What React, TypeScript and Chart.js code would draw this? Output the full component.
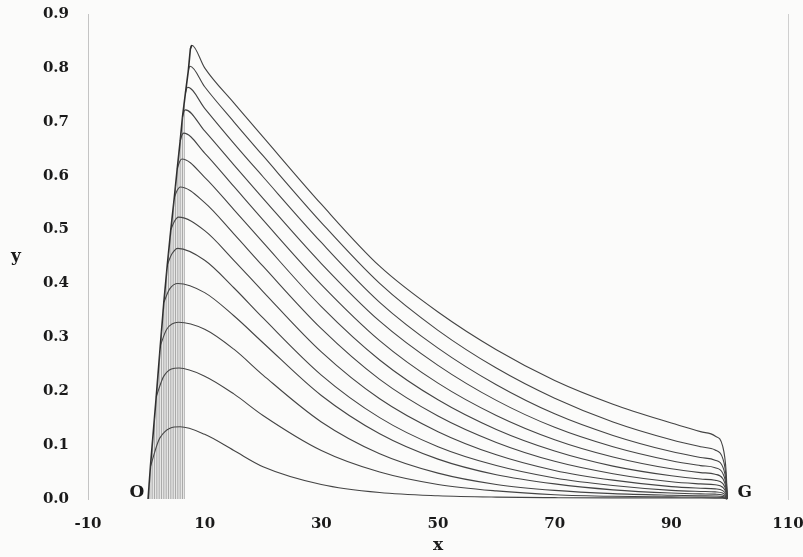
import React, { useEffect, useRef } from "react";
import { Chart, registerables } from "chart.js";

Chart.register(...registerables);

// Axis ticks
const xTicks = [-10, 10, 30, 50, 70, 90, 110];
const yTicks = [0, 0.1, 0.2, 0.3, 0.4, 0.5, 0.6, 0.7, 0.8, 0.9];

// Left envelope (rising front from O to the top peak)
const envX = [0.3, 0.7, 1.7, 2.4, 3.0, 3.6, 4.2, 4.8, 5.3, 5.8, 6.2, 6.7, 7.2, 7.55, 7.8];
const envY = [0, 0.06, 0.19, 0.285, 0.365, 0.435, 0.5, 0.56, 0.613, 0.664, 0.709, 0.753, 0.795, 0.835, 0.842];

// Hatched band under the front (vertical strokes)
const hatchX = [0.5, 0.8, 1.1, 1.4, 1.7, 2.0, 2.3, 2.6, 2.9, 3.2, 3.5, 3.8, 4.1, 4.4, 4.7, 5.0, 5.3, 5.6, 5.9, 6.2, 6.5];
const hatchTop = [0.03, 0.073, 0.112, 0.151, 0.19, 0.231, 0.271, 0.312, 0.352, 0.388, 0.423, 0.457, 0.489, 0.52, 0.55, 0.581, 0.613, 0.644, 0.675, 0.709, 0.735];

// Head of each of the 13 curves: start on the front, bend, peak
const startX = [0.7, 1.7, 2.4, 3.0, 3.6, 4.2, 4.8, 5.3, 5.8, 6.2, 6.7, 7.2, 7.55];
const startY = [0.06, 0.19, 0.285, 0.365, 0.435, 0.5, 0.56, 0.613, 0.664, 0.709, 0.753, 0.795, 0.835];
const bendX = [2.3, 3.0, 3.5, 4.0, 4.4, 4.8, 5.3, 5.7, 6.1, 6.45, 6.9, 7.35, 7.7];
const bendY = [0.113, 0.228, 0.315, 0.39, 0.455, 0.515, 0.573, 0.626, 0.675, 0.719, 0.761, 0.801, 0.841];
const peakX = [5.8, 5.6, 5.5, 5.4, 5.4, 5.5, 5.8, 6.1, 6.4, 6.7, 7.1, 7.5, 7.8];
const peakY = [0.134, 0.243, 0.328, 0.4, 0.465, 0.523, 0.579, 0.631, 0.679, 0.722, 0.764, 0.803, 0.842];

// Tail of each curve, sampled at decayX
const decayX = [10, 15, 20, 30, 40, 50, 60, 70, 80, 90, 95, 97.5, 98.8, 99.4, 99.6];
const curve01 = [0.12, 0.09, 0.06, 0.027, 0.012, 0.006, 0.0035, 0.0025, 0.002, 0.002, 0.0018, 0.0017, 0.0014, 0.0007, 0];
const curve02 = [0.228, 0.195, 0.155, 0.09, 0.05, 0.027, 0.015, 0.008, 0.005, 0.004, 0.0035, 0.0033, 0.0027, 0.0014, 0];
const curve03 = [0.315, 0.278, 0.23, 0.143, 0.084, 0.048, 0.027, 0.016, 0.01, 0.007, 0.006, 0.0056, 0.0047, 0.0024, 0];
const curve04 = [0.383, 0.34, 0.29, 0.192, 0.121, 0.074, 0.045, 0.028, 0.017, 0.011, 0.0095, 0.009, 0.0074, 0.0038, 0];
const curve05 = [0.443, 0.392, 0.336, 0.23, 0.151, 0.097, 0.062, 0.039, 0.025, 0.016, 0.014, 0.0132, 0.011, 0.0056, 0];
const curve06 = [0.498, 0.443, 0.385, 0.273, 0.186, 0.125, 0.082, 0.053, 0.035, 0.023, 0.02, 0.0188, 0.0156, 0.008, 0];
const curve07 = [0.55, 0.492, 0.432, 0.316, 0.222, 0.154, 0.105, 0.07, 0.047, 0.032, 0.028, 0.0263, 0.0218, 0.0112, 0];
const curve08 = [0.597, 0.537, 0.476, 0.357, 0.258, 0.184, 0.129, 0.089, 0.061, 0.043, 0.037, 0.0348, 0.0289, 0.0148, 0];
const curve09 = [0.642, 0.58, 0.518, 0.398, 0.294, 0.215, 0.155, 0.11, 0.078, 0.056, 0.049, 0.046, 0.038, 0.0196, 0];
const curve10 = [0.683, 0.62, 0.558, 0.437, 0.33, 0.248, 0.183, 0.133, 0.097, 0.071, 0.062, 0.058, 0.048, 0.025, 0];
const curve11 = [0.725, 0.66, 0.598, 0.476, 0.365, 0.28, 0.212, 0.158, 0.118, 0.088, 0.077, 0.072, 0.06, 0.031, 0];
const curve12 = [0.765, 0.7, 0.637, 0.513, 0.4, 0.313, 0.243, 0.187, 0.143, 0.11, 0.097, 0.091, 0.076, 0.039, 0];
const curve13 = [0.8, 0.735, 0.672, 0.547, 0.432, 0.347, 0.277, 0.22, 0.176, 0.141, 0.125, 0.117, 0.098, 0.05, 0];
const curveTails = [curve01, curve02, curve03, curve04, curve05, curve06, curve07, curve08, curve09, curve10, curve11, curve12, curve13];

// Point labels
const markText = ["O", "G"];
const markX = [-1.6, 102.6];
const markY = [0.011, 0.011];

const SERIF = '"DejaVu Serif", "Liberation Serif", serif';

export default function App() {
  const ref = useRef<HTMLCanvasElement | null>(null);

  useEffect(() => {
    document.body.style.margin = "0";
    document.body.style.background = "#fbfbfa";
    const canvas = ref.current;
    if (!canvas) return;

    const hatchData: any[] = [];
    hatchX.forEach((x, i) => {
      hatchData.push({ x, y: 0 });
      hatchData.push({ x, y: hatchTop[i] });
      hatchData.push({ x, y: null });
    });

    const curveSets = curveTails.map((tail, i) => ({
      type: "line" as const,
      data: [
        { x: startX[i], y: startY[i] },
        { x: bendX[i], y: bendY[i] },
        { x: peakX[i], y: peakY[i] },
        ...decayX.map((x, j) => ({ x, y: tail[j] })),
      ],
      borderColor: "#444444",
      borderWidth: 1.1,
      pointRadius: 0,
      cubicInterpolationMode: "monotone" as const,
      fill: false,
      clip: 6,
    }));

    const labelsPlugin = {
      id: "labels",
      afterDraw(chart: any) {
        const { ctx, scales, chartArea } = chart;
        ctx.save();
        ctx.fillStyle = "#1a1a1a";
        ctx.font = `bold 17px ${SERIF}`;
        ctx.textAlign = "center";
        ctx.textBaseline = "middle";
        markText.forEach((t, i) => {
          ctx.fillText(t, scales.x.getPixelForValue(markX[i]), scales.y.getPixelForValue(markY[i]));
        });
        ctx.fillText("y", 16, (chartArea.top + chartArea.bottom) / 2);
        ctx.fillText("x", (chartArea.left + chartArea.right) / 2, 546);
        ctx.restore();
      },
    };

    const chart = new Chart(canvas, {
      type: "line",
      data: {
        datasets: [
          {
            data: hatchData,
            borderColor: "rgba(80,80,80,0.6)",
            borderWidth: 0.8,
            pointRadius: 0,
            tension: 0,
            spanGaps: false,
            fill: false,
          },
          {
            data: envX.map((x, i) => ({ x, y: envY[i] })),
            borderColor: "#2e2e2e",
            borderWidth: 1.6,
            pointRadius: 0,
            tension: 0,
            fill: false,
          },
          ...curveSets,
        ] as any,
      },
      options: {
        responsive: false,
        animation: false,
        devicePixelRatio: 1,
        layout: { padding: { left: 0, right: 15, top: 14, bottom: 0 } },
        plugins: { legend: { display: false }, tooltip: { enabled: false } },
        scales: {
          x: {
            type: "linear",
            min: -10,
            max: 110,
            grid: { display: false, drawTicks: false },
            border: { display: false },
            afterBuildTicks: (s: any) => {
              s.ticks = xTicks.map((v) => ({ value: v }));
            },
            afterFit: (s: any) => {
              s.height = 58;
              s.paddingLeft = 0;
              s.paddingRight = 0;
            },
            ticks: {
              padding: 16,
              color: "#1a1a1a",
              font: { family: SERIF, size: 15, weight: "bold" },
              maxRotation: 0,
              autoSkip: false,
              callback: (v: any) => String(v),
            },
          },
          y: {
            type: "linear",
            min: 0,
            max: 0.9,
            grid: { display: false, drawTicks: false },
            border: { display: true, color: "#c4c4c4", width: 1 },
            afterBuildTicks: (s: any) => {
              s.ticks = yTicks.map((v) => ({ value: v }));
            },
            afterFit: (s: any) => {
              s.width = 88;
              s.paddingTop = 0;
              s.paddingBottom = 0;
            },
            ticks: {
              padding: 19,
              color: "#1a1a1a",
              font: { family: SERIF, size: 15, weight: "bold" },
              autoSkip: false,
              callback: (v: any) => Number(v).toFixed(1),
            },
          },
          y2: {
            type: "linear",
            position: "right",
            min: 0,
            max: 0.9,
            grid: { display: false, drawTicks: false },
            border: { display: true, color: "#cfcfcf", width: 1 },
            ticks: { display: false },
            afterFit: (s: any) => {
              s.width = 0;
              s.paddingTop = 0;
              s.paddingBottom = 0;
            },
          },
        },
      } as any,
      plugins: [labelsPlugin],
    });

    return () => chart.destroy();
  }, []);

  return (
    <div style={{ width: 803, height: 557, overflow: "hidden" }}>
      <canvas ref={ref} width={803} height={557} style={{ display: "block" }} />
    </div>
  );
}
